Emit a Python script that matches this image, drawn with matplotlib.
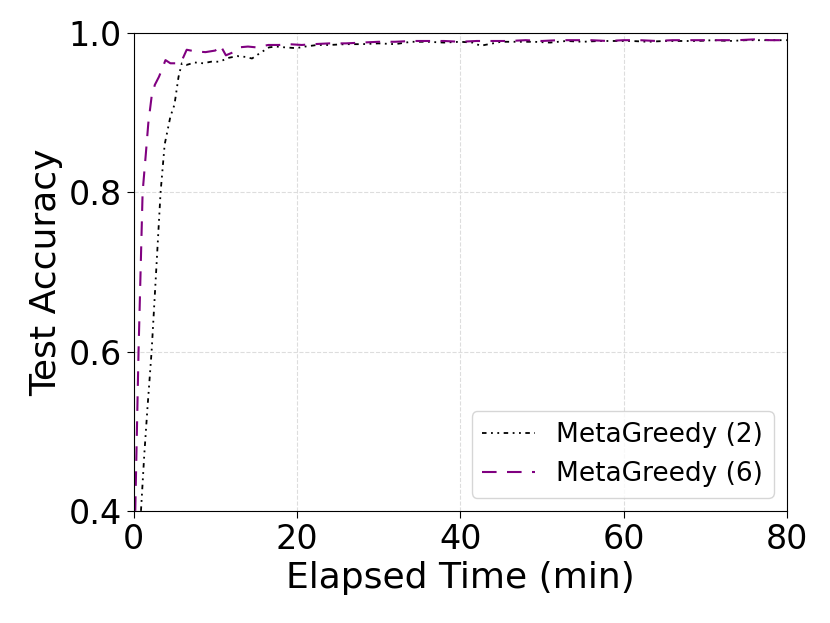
import matplotlib.pyplot as plt
import numpy as np

# MetaGreedy (2)
t2 = [0.9, 1.3, 1.7, 2.2, 2.7, 3.3, 3.8, 4.5, 5.0, 5.5, 5.9, 6.5, 7.5, 8.5, 9.5, 10.5, 11.7,
      12.7, 13.7, 14.5, 15.5, 16.6, 17.5, 18.5, 19.9, 21, 22.5, 24, 26, 28, 30, 32, 34, 36,
      38, 40, 41.5, 42.5, 43.5, 45, 47, 49, 51, 53, 55, 57, 59, 61, 63, 65, 67, 69, 71,
      73, 75, 77, 79, 80]
acc2 = [0.40, 0.47, 0.53, 0.60, 0.69, 0.80, 0.86, 0.895, 0.91, 0.945, 0.962, 0.960, 0.963,
        0.962, 0.964, 0.964, 0.969, 0.971, 0.970, 0.968, 0.975, 0.982, 0.983, 0.982, 0.981,
        0.983, 0.985, 0.985, 0.986, 0.986, 0.987, 0.986, 0.989, 0.989, 0.988, 0.989, 0.988,
        0.984, 0.986, 0.989, 0.989, 0.989, 0.988, 0.990, 0.989, 0.990, 0.990, 0.990, 0.989,
        0.990, 0.990, 0.990, 0.991, 0.990, 0.991, 0.991, 0.991, 0.991]

# MetaGreedy (6)
t6 = [0.2, 0.4, 0.6, 0.85, 1.1, 1.5, 1.8, 2.2, 2.6, 3.1, 3.5, 3.9, 4.5, 5.2, 5.8, 6.5, 7.5,
      8.8, 10.0, 10.6, 11.3, 12.0, 12.9, 14.0, 15.0, 16.5, 17.8, 19.0, 20.6, 22, 24, 26, 28,
      30, 32, 34, 36, 38, 40, 42, 44, 46, 48, 50, 52, 54, 56, 58, 60, 62, 64, 66, 68, 70,
      72, 74, 76, 78, 80]
acc6 = [0.40, 0.50, 0.60, 0.70, 0.80, 0.849, 0.887, 0.92, 0.935, 0.945, 0.955, 0.966, 0.962,
        0.962, 0.963, 0.979, 0.977, 0.976, 0.978, 0.985, 0.972, 0.975, 0.982, 0.983, 0.982,
        0.985, 0.985, 0.986, 0.985, 0.986, 0.987, 0.987, 0.988, 0.989, 0.989, 0.990, 0.990,
        0.990, 0.989, 0.990, 0.990, 0.990, 0.991, 0.990, 0.991, 0.991, 0.991, 0.990, 0.991,
        0.991, 0.990, 0.991, 0.991, 0.991, 0.991, 0.991, 0.992, 0.991, 0.991]

fig = plt.figure(figsize=(8.3, 6.23), dpi=100)
ax = fig.add_axes([0.161, 0.180, 0.787, 0.767])

ax.plot(t2, acc2, color='black', linestyle=(0, (2.5, 2.5, 1, 2.5, 1, 2.5)), linewidth=1.3,
        label='MetaGreedy (2)')
ax.plot(t6, acc6, color='purple', linestyle=(0, (7, 5)), linewidth=1.5,
        label='MetaGreedy (6)')

ax.set_xlim(0, 80)
ax.set_ylim(0.4, 1.0)
ax.set_xticks([0, 20, 40, 60, 80])
ax.set_yticks([0.4, 0.6, 0.8, 1.0])
ax.tick_params(labelsize=24, length=5)
ax.grid(True, linestyle='--', color='#dddddd')
ax.set_xlabel('Elapsed Time (min)', fontsize=26)
ax.set_ylabel('Test Accuracy', fontsize=26)
ax.legend(fontsize=19, loc='lower right')

plt.savefig('out.png', dpi=100)
